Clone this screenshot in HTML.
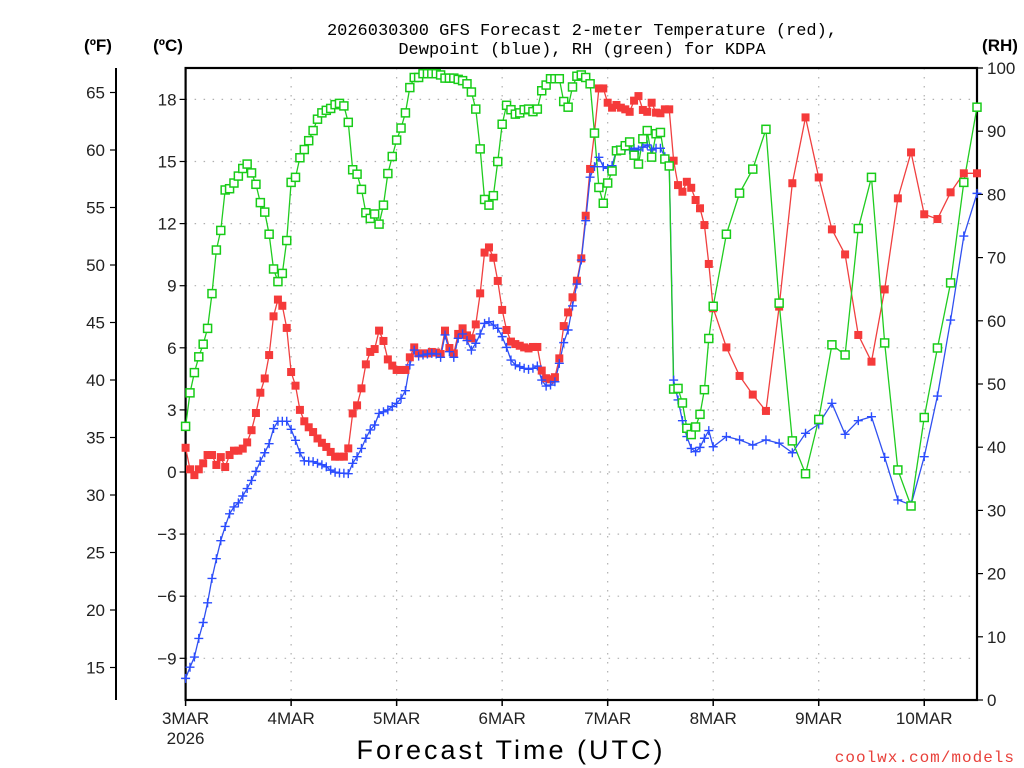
<!DOCTYPE html>
<html><head><meta charset="utf-8"><style>
html,body{margin:0;padding:0;background:#fff;}
svg{display:block;font-family:"Liberation Sans",sans-serif;}
</style></head><body>
<svg id="chart" width="1024" height="768" viewBox="0 0 1024 768" xmlns="http://www.w3.org/2000/svg">
<g font-size="17" fill="#000" text-anchor="middle" font-family="Liberation Mono, monospace">
<text x="582" y="35">2026030300 GFS Forecast 2-meter Temperature (red),</text>
<text x="582" y="54">Dewpoint (blue), RH (green) for KDPA</text>
</g>
<text x="98" y="51" font-size="17" font-weight="bold" text-anchor="middle">(ºF)</text>
<text x="168" y="51" font-size="17" font-weight="bold" text-anchor="middle">(ºC)</text>
<text x="1000" y="51" font-size="17" font-weight="bold" text-anchor="middle">(RH)</text>
<g id="grid"></g>
<g id="axes"></g>
<g id="series"></g>
<text x="511" y="759" font-size="27" text-anchor="middle" letter-spacing="3">Forecast Time (UTC)</text>
<text x="1015" y="762" font-size="16" fill="#e8403a" text-anchor="end" letter-spacing="1" font-family="Liberation Mono, monospace">coolwx.com/models</text>
</svg>
<script>
// forecast hours: hourly 0..120, then 3-hourly to 180
const hours = [];
for (let h = 0; h <= 120; h++) hours.push(h);
for (let h = 123; h <= 180; h += 3) hours.push(h);

const tempC = [1.17,0.13,-0.15,0.13,0.42,0.82,0.82,0.34,0.72,0.24,0.82,1.03,1.03,1.13,1.43,2.02,2.85,3.83,4.52,5.65,7.52,8.33,8.03,6.96,4.83,4.17,3.0,2.45,2.16,1.93,1.62,1.41,1.21,0.97,0.74,0.74,0.74,1.14,2.83,3.22,4.04,5.2,5.8,5.94,6.83,6.33,5.44,5.14,4.93,4.93,4.93,5.54,6.02,5.73,5.73,5.73,5.8,5.77,5.7,6.83,5.99,5.73,6.67,6.94,6.6,6.46,7.13,8.63,10.6,10.85,10.35,9.23,7.83,6.86,6.3,6.18,6.1,6.02,5.97,6.04,6.04,4.9,4.53,4.48,4.58,5.49,7.05,7.71,8.44,9.24,10.32,12.38,14.64,16.4,18.53,18.53,17.84,17.6,17.73,17.6,17.52,17.4,17.94,18.16,17.49,17.4,17.84,17.36,17.33,17.52,17.52,15.04,13.86,13.54,14.02,13.73,13.14,12.74,11.93,10.05,7.91,
6.02,4.64,3.74,2.95,7.99,13.95,17.13,14.23,11.72,10.51,6.62,5.33,8.82,13.22,15.44,12.45,12.22,13.51,14.43,14.43];

const dewC = [-9.97,-9.43,-8.94,-8.04,-7.27,-6.32,-5.14,-4.19,-3.32,-2.63,-2.02,-1.69,-1.49,-1.16,-0.8,-0.41,0.03,0.52,0.93,1.37,2.1,2.45,2.45,2.45,2.06,1.53,0.93,0.54,0.52,0.5,0.42,0.35,0.25,0.09,-0.01,-0.05,-0.06,-0.08,0.42,0.74,1.14,1.63,2.03,2.27,2.83,2.91,3.0,3.16,3.32,3.56,3.93,5.17,5.89,5.6,5.65,5.7,5.73,5.7,5.54,6.62,5.81,5.54,6.46,6.67,6.35,5.89,6.22,6.67,7.18,7.26,7.1,6.94,6.54,6.02,5.41,5.17,5.09,5.01,4.96,5.01,5.12,4.44,4.15,4.2,4.36,5.25,6.25,6.86,8.02,9.08,10.24,12.14,14.24,14.75,15.2,14.75,14.67,14.8,15.56,15.6,15.69,15.56,15.64,15.56,15.69,15.8,15.56,15.64,15.64,15.23,14.91,4.44,3.48,2.48,1.71,1.14,0.98,1.19,1.63,2.0,1.22,
1.71,1.55,1.3,1.55,1.39,0.93,1.87,2.32,3.32,1.82,2.48,2.67,0.71,-1.35,-1.59,0.74,3.67,7.34,11.4,13.46];

const rhPct = [43.3,48.6,51.8,54.3,56.3,58.8,64.3,71.2,74.3,80.7,80.9,81.8,82.9,84.1,84.8,83.4,81.6,78.7,77.2,73.7,68.2,66.2,67.5,72.7,81.9,82.7,85.8,87.1,88.5,90.1,91.9,92.9,93.3,93.6,94.2,94.4,94.0,91.4,83.9,83.2,80.8,77.1,76.2,76.9,75.3,78.3,83.3,86.0,88.6,90.5,92.9,96.9,98.5,98.5,99.1,99.1,99.1,99.1,98.9,98.4,98.4,98.4,98.2,98.0,97.5,96.2,93.5,87.2,79.2,78.3,79.8,85.2,91.1,94.1,93.4,92.7,92.9,93.4,93.5,93.1,93.5,96.4,97.3,98.3,98.3,98.3,94.7,93.8,97.0,98.7,98.9,98.5,97.5,89.7,81.1,78.6,81.8,83.7,86.9,87.0,87.7,88.3,86.2,84.8,88.8,90.1,85.9,89.6,89.8,85.6,84.5,49.2,49.3,47.0,43.0,42.0,43.2,45.2,49.1,57.2,62.3,
73.7,80.2,84.0,90.3,62.8,41.0,35.8,44.4,56.2,54.6,74.6,82.7,56.5,36.4,30.7,44.7,55.7,66.0,81.9,93.8];

const dayLabels = ["3MAR","4MAR","5MAR","6MAR","7MAR","8MAR","9MAR","10MAR"];
const celsiusTicks = [-9,-6,-3,0,3,6,9,12,15,18];
const fahrenheitTicks = [15,20,25,30,35,40,45,50,55,60,65];
const rhTicks = [0,10,20,30,40,50,60,70,80,90,100];

const NS = "http://www.w3.org/2000/svg";
const X0 = 185.6, X1 = 977, Y0 = 68, Y1 = 700;
const xScale = h => X0 + (h / 180) * (X1 - X0);
const yC = c => 472 - c * 20.7;
const yF = f => yC((f - 32) * 5 / 9);
const yRH = r => Y1 - r * (Y1 - Y0) / 100;

function mk(tag, attrs, parent) {
  const e = document.createElementNS(NS, tag);
  for (const k in attrs) e.setAttribute(k, attrs[k]);
  parent.appendChild(e);
  return e;
}
const grid = document.getElementById('grid');
const axes = document.getElementById('axes');
const series = document.getElementById('series');

celsiusTicks.forEach(c => {
  const l = mk('line', {x1: X0, x2: X1, y1: yC(c), y2: yC(c), stroke: '#b0b0b0', 'stroke-width': 1.2, 'stroke-dasharray': '1.5 7.5'}, grid);
  
  
});
dayLabels.forEach((d, i) => {
  const x = xScale(i * 24);
  if (i > 0) {
    const l = mk('line', {x1: x, x2: x, y1: Y0, y2: Y1, stroke: '#b0b0b0', 'stroke-width': 1.2, 'stroke-dasharray': '1.5 7.5'}, grid);
    
    
  }
  const t = mk('line', {x1: x, x2: x, y1: Y1, y2: Y1 + 6, stroke: '#000', 'stroke-width': 1.5}, axes);
  
  
  const tx = mk('text', {x: x, y: 724, 'font-size': 17, 'text-anchor': 'middle', fill: '#222'}, axes);
  tx.textContent = d;
  
  
});
const yr = mk('text', {x: X0, y: 744, 'font-size': 17, 'text-anchor': 'middle', fill: '#222'}, axes);
yr.textContent = '2026';



const box = mk('rect', {x: X0, y: Y0, width: X1 - X0, height: Y1 - Y0, fill: 'none', stroke: '#000', 'stroke-width': 2.2}, axes);



celsiusTicks.forEach(c => {
  const t = mk('line', {x1: X0 - 6, x2: X0, y1: yC(c), y2: yC(c), stroke: '#000', 'stroke-width': 1.2}, axes);
  
  
  const tx = mk('text', {x: X0 - 9, y: yC(c) + 6, 'font-size': 17, 'text-anchor': 'end', fill: '#222'}, axes);
  tx.textContent = c < 0 ? '\u2212' + Math.abs(c) : String(c);
  
  
});
const fl = mk('line', {x1: 116, x2: 116, y1: Y0, y2: Y1, stroke: '#000', 'stroke-width': 2}, axes);


fahrenheitTicks.forEach(f => {
  const t = mk('line', {x1: 110, x2: 116, y1: yF(f), y2: yF(f), stroke: '#000', 'stroke-width': 1.2}, axes);
  
  
  const tx = mk('text', {x: 105, y: yF(f) + 6, 'font-size': 17, 'text-anchor': 'end', fill: '#222'}, axes);
  tx.textContent = String(f);
  
  
});
rhTicks.forEach(r => {
  const t = mk('line', {x1: X1, x2: X1 + 6, y1: yRH(r), y2: yRH(r), stroke: '#000', 'stroke-width': 1.2}, axes);
  
  
  const tx = mk('text', {x: X1 + 10, y: yRH(r) + 6, 'font-size': 17, 'text-anchor': 'start', fill: '#222'}, axes);
  tx.textContent = String(r);
  
  
});

function drawLine(vals, yf, color, name) {
  const pts = vals.map((v, i) => xScale(hours[i]).toFixed(2) + ',' + yf(v).toFixed(2)).join(' ');
  const pl = mk('polyline', {points: pts, fill: 'none', stroke: color, 'stroke-width': 1.3}, series);
  
  
}
drawLine(tempC, yC, '#f04040', 'temperature-line');
drawLine(dewC, yC, '#3050f0', 'dewpoint-line');
drawLine(rhPct, yRH, '#20cc20', 'rh-line');

tempC.forEach((v, i) => {
  const x = xScale(hours[i]), y = yC(v);
  const m = mk('rect', {x: x - 4, y: y - 4, width: 8, height: 8, fill: '#f53a3a'}, series);
  
  
});
dewC.forEach((v, i) => {
  const x = xScale(hours[i]), y = yC(v);
  const m = mk('path', {d: `M${x - 4.5},${y}H${x + 4.5}M${x},${y - 4.5}V${y + 4.5}`, stroke: '#2a4cff', 'stroke-width': 1.4, fill: 'none'}, series);
  
  
});
rhPct.forEach((v, i) => {
  const x = xScale(hours[i]), y = yRH(v);
  const m = mk('rect', {x: x - 4, y: y - 4, width: 8, height: 8, fill: '#fff', stroke: '#18cc18', 'stroke-width': 1.5}, series);
  
  
});
</script>
</body></html>
